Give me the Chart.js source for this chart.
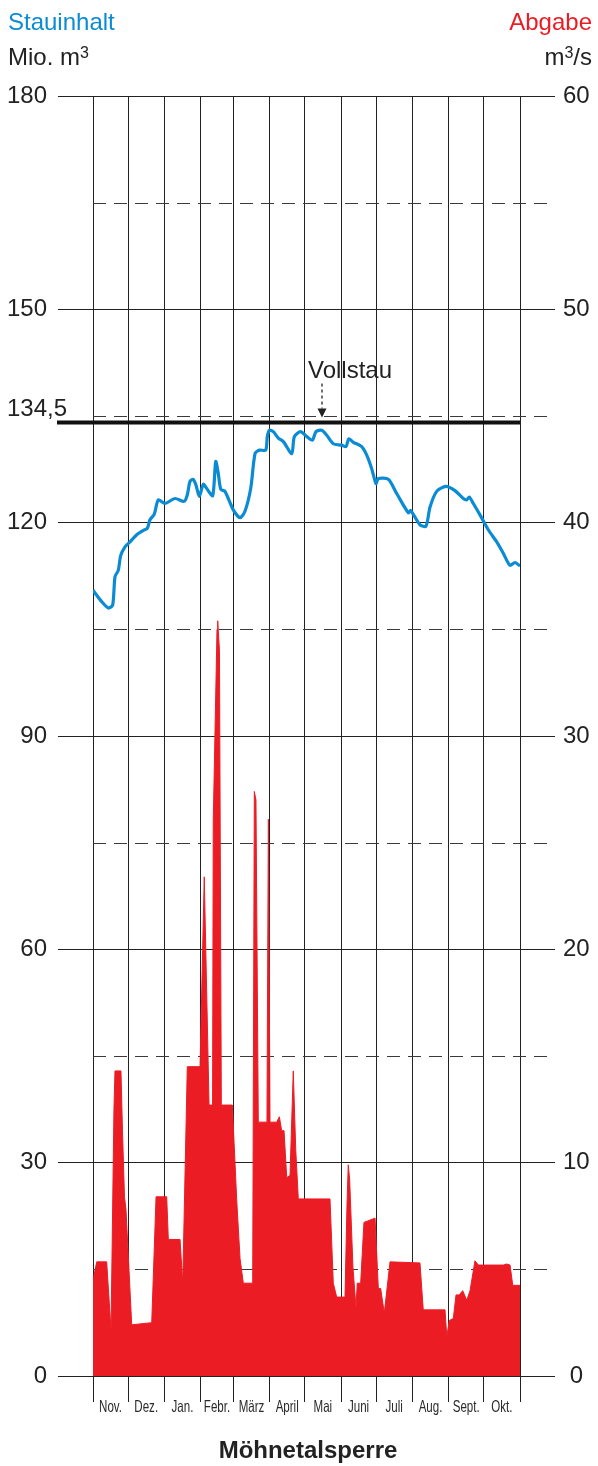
<!DOCTYPE html>
<html lang="de">
<head>
<meta charset="utf-8">
<title>Möhnetalsperre</title>
<script src="https://cdn.jsdelivr.net/npm/chart.js@4.4.1/dist/chart.umd.min.js"></script>
<style>
  html, body { margin: 0; padding: 0; background: #fff; }
  #wrap { position: relative; width: 598px; height: 1466px; }
</style>
</head>
<body>
<div id="wrap"><canvas id="chart"></canvas></div>
<script>
const monthStarts = [0, 30, 61, 92, 120, 151, 181, 212, 242, 273, 304, 334, 365];
const monthLabels = ['Nov.', 'Dez.', 'Jan.', 'Febr.', 'März', 'April', 'Mai', 'Juni', 'Juli', 'Aug.', 'Sept.', 'Okt.'];
const abgabeDashTicks = [5, 15, 25, 35, 45, 55];
const vollstau = 134.5;

// Stauinhalt (Mio. m3), day since 1 Nov
const stauDays = [0, 7.4, 13.1, 16.8, 18.8, 21.6, 23.7, 27.4, 31.6, 37.4, 43.0, 46.4, 48.7, 52.4, 55.8, 61.5,
  70.1, 77.8, 80.6, 82.9, 85.7, 88.0, 90.9, 94.3, 97.2, 102.3, 104.9, 107.1, 109.2, 112.8, 119.9, 125.7,
  129.9, 134.8, 138.5, 142.2, 147.6, 149.0, 150.7, 154.1, 158.4, 162.7, 169.9, 172.1, 177.5, 182.7, 187.5,
  190.6, 195.5, 199.8, 205.4, 212.6, 216.3, 218.6, 222.5, 229.7, 234.0, 238.2, 241.9, 243.9, 252.4, 259.6,
  269.5, 271.6, 279.5, 284.6, 288.1, 293.8, 301.7, 309.4, 316.5, 319.4, 321.7, 325.1, 330.8, 337.9, 345.1,
  350.7, 356.4, 360.7, 365];
const stauValues = [110.5, 108.9, 108.0, 108.4, 112.4, 113.3, 115.4, 116.6, 117.3, 118.3, 118.9, 119.2, 120.4, 121.2, 123.2, 122.7,
  123.4, 123.0, 123.9, 125.8, 126.1, 125.3, 123.7, 125.4, 124.8, 123.8, 128.6, 126.9, 124.7, 124.4, 121.8, 120.7,
  121.6, 124.8, 129.7, 130.2, 130.2, 132.1, 133.0, 132.8, 131.9, 131.4, 129.7, 132.1, 132.8, 132.1, 131.6,
  132.8, 133.0, 132.3, 131.1, 130.9, 130.7, 131.8, 131.3, 130.7, 129.5, 127.6, 125.5, 126.2, 126.1, 124.1,
  121.4, 121.7, 119.7, 119.5, 122.2, 124.4, 125.1, 124.5, 123.4, 123.2, 123.6, 122.7, 121.1, 119.0, 117.3,
  115.7, 114.0, 114.4, 113.9];

// Abgabe (m3/s)
const abgabeDays = [0, 3.2, 11.7, 15.4, 17.9, 18.8, 23.9, 25.2, 26.9, 28.2, 33.1, 50.2, 53.9, 63.0, 64.4, 74.4,
  76.7, 80.6, 91.5, 95.1, 99.2, 102.2, 102.8, 106.0, 106.6, 108.1, 109.7, 119.1, 122.8, 125.7, 128.5, 136.5,
  137.9, 139.3, 141.3, 148.7, 149.9, 151.3, 157.0, 159.3, 161.3, 163.3, 165.6, 168.4, 171.2, 173.3, 175.5,
  202.6, 205.4, 208.3, 215.4, 217.1, 218.2, 219.4, 222.2, 224.8, 225.9, 228.8, 231.6, 241.1, 243.9, 245.9,
  249.0, 253.9, 279.5, 282.3, 300.9, 302.4, 304.6, 308.0, 310.3, 313.1, 316.0, 319.5, 322.3, 326.5, 329.4,
  350.7, 353.6, 356.5, 358.8, 365];
const abgabeValues = [4.5, 5.35, 5.35, 2.15, 12.5, 14.3, 14.3, 11.5, 8.4, 7.8, 2.4, 2.5, 8.4, 8.4, 6.4, 6.4,
  4.35, 14.5, 14.5, 23.4, 12.7, 12.7, 26, 35, 35.4, 34, 12.7, 12.7, 8.3, 5.5, 4.35, 4.35,
  27.4, 27, 11.9, 11.9, 26.1, 11.9, 11.9, 12.15, 11.5, 11.5, 9.3, 9.4, 14.3, 10.6, 8.3,
  8.3, 4.35, 3.7, 3.7, 8, 9.9, 9.2, 5.1, 3.2, 4.35, 4.35, 7.2, 7.4, 4.1, 4.1,
  2.95, 5.35, 5.3, 3.1, 3.1, 1.85, 2.6, 2.7, 3.8, 3.8, 4.0, 3.55, 4.0, 5.4, 5.2,
  5.2, 5.25, 5.2, 4.25, 4.25];

const FONT = '"Liberation Sans", Arial, Helvetica, sans-serif';
const BLUE = '#0b8bd3';
const RED = '#ec1c24';
const INK = '#222';

Chart.defaults.font.family = FONT;
Chart.defaults.color = INK;

// text with a raised "3"
function drawUnit(ctx, parts, x, y, align) {
    const widths = parts.map(p => {
        ctx.font = p.sup ? '16px ' + FONT : '24px ' + FONT;
        return ctx.measureText(p.t).width;
    });
    const total = widths.reduce((a, b) => a + b, 0);
    let cx = align === 'right' ? x - total : x;
    ctx.textAlign = 'left';
    parts.forEach((p, i) => {
        ctx.font = p.sup ? '16px ' + FONT : '24px ' + FONT;
        ctx.fillText(p.t, cx, p.sup ? y - 7 : y);
        cx += widths[i];
    });
}

const extras = {
    id: 'extras',
    beforeDatasetsDraw(chart) {
        const { ctx, chartArea } = chart;
        const y2 = chart.scales.y2;
        ctx.save();
        ctx.strokeStyle = '#3a3a3a';
        ctx.lineWidth = 1.2;
        ctx.setLineDash([13, 8]);
        abgabeDashTicks.forEach(v => {
            const py = Math.round(y2.getPixelForValue(v)) + 0.5;
            ctx.beginPath();
            ctx.moveTo(chartArea.left, py);
            ctx.lineTo(chartArea.right + 35, py);
            ctx.stroke();
        });
        ctx.restore();
    },
    afterDatasetsDraw(chart) {
        const { ctx, chartArea } = chart;
        const x = chart.scales.x;
        const y = chart.scales.y;
        ctx.save();

        // Vollstau line
        const vy = y.getPixelForValue(vollstau);
        ctx.strokeStyle = '#111';
        ctx.lineWidth = 4;
        ctx.beginPath();
        ctx.moveTo(chartArea.left - 36, vy + 3);
        ctx.lineTo(chartArea.right, vy + 3);
        ctx.stroke();

        ctx.fillStyle = INK;
        ctx.font = '24px ' + FONT;
        ctx.textBaseline = 'alphabetic';
        ctx.textAlign = 'left';
        ctx.fillText('134,5', 7, vy - 4);
        ctx.fillText('Vollstau', 308, vy - 42);

        // dashed arrow
        ctx.lineWidth = 1.3;
        ctx.strokeStyle = INK;
        ctx.setLineDash([3, 3]);
        ctx.beginPath();
        ctx.moveTo(322, vy - 36);
        ctx.lineTo(322, vy - 11);
        ctx.stroke();
        ctx.setLineDash([]);
        ctx.beginPath();
        ctx.moveTo(317.5, vy - 11);
        ctx.lineTo(326.5, vy - 11);
        ctx.lineTo(322, vy - 2);
        ctx.closePath();
        ctx.fill();

        // header
        ctx.font = '24px ' + FONT;
        ctx.fillStyle = BLUE;
        ctx.textAlign = 'left';
        ctx.fillText('Stauinhalt', 8, 30);
        ctx.fillStyle = RED;
        ctx.textAlign = 'right';
        ctx.fillText('Abgabe', 592, 30);
        ctx.fillStyle = INK;
        drawUnit(ctx, [{ t: 'Mio. m' }, { t: '3', sup: true }], 8, 65, 'left');
        drawUnit(ctx, [{ t: 'm' }, { t: '3', sup: true }, { t: '/s' }], 592, 65, 'right');

        // month labels, condensed
        const squeeze = 0.7;
        ctx.font = '16.5px ' + FONT;
        ctx.fillStyle = '#2a2a2a';
        ctx.textAlign = 'center';
        monthLabels.forEach((m, i) => {
            const cx = (x.getPixelForValue(monthStarts[i]) + x.getPixelForValue(monthStarts[i + 1])) / 2;
            ctx.save();
            ctx.translate(cx, 1412);
            ctx.scale(squeeze, 1);
            ctx.fillText(m, 0, 0);
            ctx.restore();
        });

        // title
        ctx.fillStyle = INK;
        ctx.font = 'bold 24px ' + FONT;
        ctx.fillText('Möhnetalsperre', 308, 1458);
        ctx.restore();
    }
};

const ctx = document.getElementById('chart').getContext('2d');
new Chart(ctx, {
    type: 'line',
    data: {
        datasets: [{
            label: 'Stauinhalt',
            data: stauDays.map((d, i) => ({ x: d, y: stauValues[i] })),
            borderColor: BLUE,
            borderWidth: 3.2,
            pointRadius: 0,
            tension: 0.25,
            fill: false,
            yAxisID: 'y'
        }, {
            label: 'Abgabe',
            data: abgabeDays.map((d, i) => ({ x: d, y: abgabeValues[i] })),
            borderColor: RED,
            backgroundColor: RED,
            borderWidth: 1,
            pointRadius: 0,
            tension: 0,
            fill: 'origin',
            yAxisID: 'y2'
        }]
    },
    options: {
        responsive: true,
        maintainAspectRatio: false,
        animation: false,
        events: [],
        layout: { padding: { top: 96, left: 0, right: 0, bottom: 0 } },
        plugins: { legend: { display: false }, tooltip: { enabled: false } },
        scales: {
            x: {
                type: 'linear',
                min: 0,
                max: 365,
                afterBuildTicks: s => { s.ticks = monthStarts.map(v => ({ value: v })); },
                afterFit: s => { s.height = 90; },
                ticks: { display: false },
                grid: { color: INK, lineWidth: 1, tickLength: 26 },
                border: { display: false }
            },
            y: {
                position: 'left',
                min: 0,
                max: 180,
                afterFit: s => { s.width = 93; },
                ticks: { stepSize: 30, padding: 11, font: { size: 24 }, color: INK },
                grid: { color: INK, lineWidth: 1, tickLength: 35 },
                border: { display: false }
            },
            y2: {
                position: 'right',
                min: 0,
                max: 60,
                afterFit: s => { s.width = 78; },
                ticks: { stepSize: 10, padding: 8, crossAlign: 'center', font: { size: 24 }, color: INK },
                grid: { drawOnChartArea: false, color: INK, lineWidth: 1, tickLength: 35 },
                border: { display: false }
            }
        }
    },
    plugins: [extras]
});
</script>
</body>
</html>
